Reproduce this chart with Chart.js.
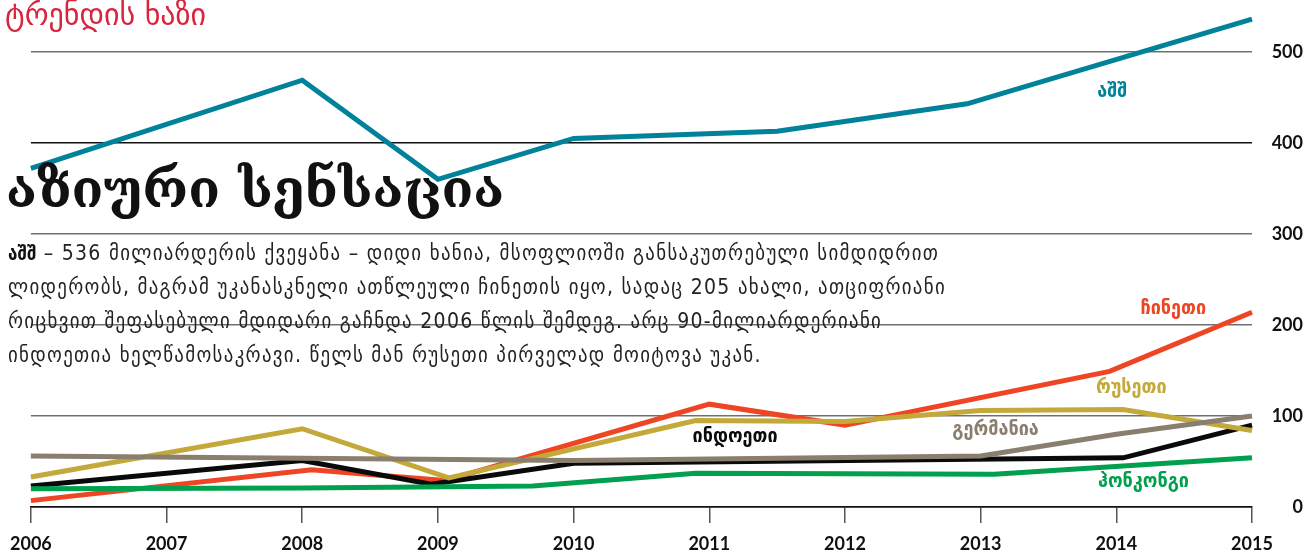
<!DOCTYPE html>
<html>
<head>
<meta charset="utf-8">
<script src="https://cdn.jsdelivr.net/npm/chart.js@4.4.1/dist/chart.umd.min.js"></script>
<style>
  html, body { margin: 0; padding: 0; background: #fff; }
  #wrap { position: relative; width: 1316px; height: 553px; overflow: hidden; }
  #mycanvas { position: absolute; left: 0; top: 0; }
  .kicker { position: absolute; left: 5px; top: -3px; color: #d8243d;
    font: 30px "DejaVu Sans", sans-serif; }
  .headline { position: absolute; left: 6px; top: 158px; color: #111;
    font: bold 52px "DejaVu Serif", "DejaVu Sans", serif; }
  .blurb { position: absolute; left: 8px; top: 236px; color: #222;
    font: 21px/34px "DejaVu Sans Condensed", "DejaVu Sans", sans-serif; letter-spacing: 1.3px; white-space: nowrap; }
  .blurb b { font-size: 19px; font-weight: bold; color: #111; letter-spacing: 0; }
</style>
</head>
<body>
<div id="wrap">
  <canvas id="mycanvas" width="1316" height="553"></canvas>
  <div class="kicker">ტრენდის ხაზი</div>
  <div class="headline">აზიური სენსაცია</div>
  <div class="blurb"><b>აშშ</b> – 536 მილიარდერის ქვეყანა – დიდი ხანია, მსოფლიოში განსაკუთრებული სიმდიდრით<br>ლიდერობს, მაგრამ უკანასკნელი ათწლეული ჩინეთის იყო, სადაც 205 ახალი, ათციფრიანი<br>რიცხვით შეფასებული მდიდარი გაჩნდა 2006 წლის შემდეგ. არც 90-მილიარდერიანი<br>ინდოეთია ხელწამოსაკრავი. წელს მან რუსეთი პირველად მოიტოვა უკან.</div>
</div>
<script>
// billionaires per country, year positions and counts
var years = [2006, 2007, 2008, 2009, 2010, 2011, 2012, 2013, 2014, 2015];
var yTicks = [0, 100, 200, 300, 400, 500];

var usaYears = [2006, 2008, 2009, 2010, 2011.5, 2012.9, 2015];
var usaValues = [372, 469, 360, 405, 413, 443, 536];

var chinaYears = [2006, 2008.07, 2009.05, 2011, 2012, 2013.95, 2015];
var chinaValues = [7, 41, 29, 113, 90, 149, 214];

var russiaYears = [2006, 2008, 2009.08, 2010.9, 2012, 2013, 2014.05, 2015];
var russiaValues = [33, 86, 32, 95, 94, 106, 107, 84];

var germanyYears = [2006, 2010, 2013, 2014, 2015];
var germanyValues = [56, 51, 56, 80, 100];

var indiaYears = [2006, 2008, 2008.95, 2010, 2014.05, 2015];
var indiaValues = [23, 51, 25, 48, 54, 90];

var hkYears = [2006, 2008, 2009.7, 2010.9, 2013.1, 2015];
var hkValues = [20, 21, 23, 37, 36, 54];

var names = ["აშშ", "ჰონკონგი", "გერმანია", "რუსეთი", "ინდოეთი", "ჩინეთი"];
var colors = ["#00829a", "#00a04e", "#8a7f6f", "#c3a93a", "#0a0a0a", "#ee4524"];

// where each country name sits, in chart units (year, count)
var labelYears = [2013.97, 2014.2, 2013.11, 2014.11, 2011.19, 2014.42];
var labelValues = [456, 28, 85, 131.5, 77, 218];

function pts(xs, ys) {
  var out = [];
  for (var i in xs) out.push({ x: xs[i], y: ys[i] });
  return out;
}

var series = [
  pts(usaYears, usaValues),
  pts(hkYears, hkValues),
  pts(germanyYears, germanyValues),
  pts(russiaYears, russiaValues),
  pts(indiaYears, indiaValues),
  pts(chinaYears, chinaValues)
];

var datasets = [];
for (var i in series) {
  datasets.push({
    label: names[i],
    data: series[i],
    borderColor: colors[i],
    backgroundColor: colors[i],
    borderWidth: 5,
    borderJoinStyle: "miter",
    pointRadius: 0,
    tension: 0,
    fill: false,
    clip: 8
  });
}

var nameLabels = {
  id: "nameLabels",
  afterDatasetsDraw: function(chart) {
    var ctx = chart.ctx;
    var xs = chart.scales.x, ys = chart.scales.y;
    ctx.save();
    ctx.font = "bold 20px 'DejaVu Sans Condensed', 'DejaVu Sans', sans-serif";
    ctx.textAlign = "center";
    ctx.textBaseline = "middle";
    for (var i in names) {
      ctx.fillStyle = colors[i];
      ctx.fillText(names[i], xs.getPixelForValue(labelYears[i]), ys.getPixelForValue(labelValues[i]));
    }
    ctx.restore();
  }
};

var tickFont = { family: "Lato", weight: "bold", size: 18 };

new Chart(document.getElementById("mycanvas"), {
  type: "line",
  data: { datasets: datasets },
  plugins: [nameLabels],
  options: {
    responsive: false,
    devicePixelRatio: 1,
    animation: false,
    layout: { padding: { left: 28, top: 11, right: 13, bottom: 0 } },
    plugins: { legend: { display: false }, tooltip: { enabled: false } },
    scales: {
      x: {
        type: "linear",
        bounds: "data",
        min: years[0],
        max: years[years.length - 1],
        afterBuildTicks: function(s) { s.ticks = years.map(function(v) { return { value: v }; }); },
        afterFit: function(s) { s.height = 46; },
        ticks: {
          color: "#111",
          font: tickFont,
          padding: 10,
          maxRotation: 0,
          autoSkip: false,
          callback: function(v) { return String(v); }
        },
        grid: { drawOnChartArea: false, drawTicks: true, tickLength: 16, tickColor: "#555", lineWidth: 1.5 },
        border: { display: true, color: "#111", width: 1.5 }
      },
      y: {
        position: "right",
        bounds: "data",
        min: 0,
        max: 545,
        afterBuildTicks: function(s) { s.ticks = yTicks.map(function(v) { return { value: v }; }); },
        afterFit: function(s) { s.width = 51; },
        ticks: {
          color: "#111",
          font: tickFont,
          padding: 0,
          crossAlign: "far",
          callback: function(v) { return String(v); }
        },
        grid: {
          drawTicks: false,
          lineWidth: 1.5,
          color: function(c) { return (c.tick && (c.tick.value === 400 || c.tick.value === 0)) ? "#111" : "#707070"; }
        },
        border: { display: false }
      }
    }
  }
});
</script>
</body>
</html>
